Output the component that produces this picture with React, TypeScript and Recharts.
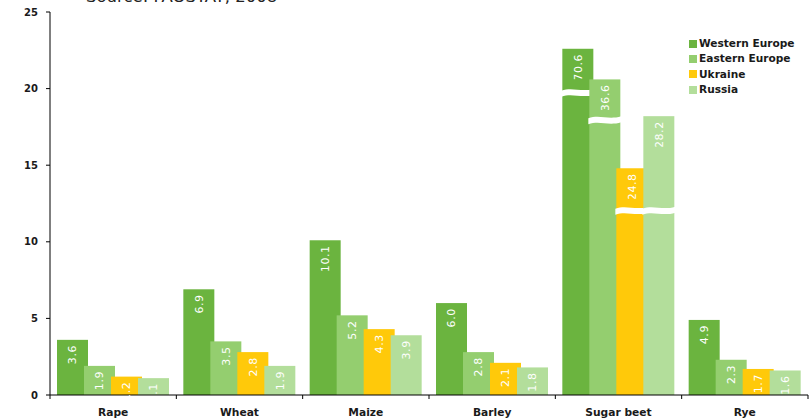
import React from 'react';
import { BarChart, Bar, XAxis, YAxis, Legend, LabelList } from 'recharts';

// ---- data ----
const categories = ['Rape', 'Wheat', 'Maize', 'Barley', 'Sugar beet', 'Rye'];
const seriesNames = ['Western Europe', 'Eastern Europe', 'Ukraine', 'Russia'];
const seriesColors = ['#6BB43F', '#94CE6F', '#FFC90A', '#B3DE9B'];

// real values (printed in the bars)
const westernEurope = [3.6, 6.9, 10.1, 6.0, 70.6, 4.9];
const easternEurope = [1.9, 3.5, 5.2, 2.8, 36.6, 2.3];
const ukraine = [1.2, 2.8, 4.3, 2.1, 24.8, 1.7];
const russia = [1.1, 1.9, 3.9, 1.8, 28.2, 1.6];

// sugar beet bars are drawn with an axis break: height shown and break position (axis units)
const brokenCategory = 'Sugar beet';
const shownHeight = [22.6, 20.6, 14.8, 18.2];
const breakAt = [19.8, 18.0, 12.1, 12.1];

const yTicks = [0, 5, 10, 15, 20, 25];
const sourceText = 'Source: FAOSTAT, 2008';

// ---- layout ----
const W = 812;
const H = 420;
const MARGIN = { top: 12, right: 4, bottom: 0, left: 0 };
const Y_AXIS_W = 50;
const X_AXIS_H = 25;
const PLOT_W = W - MARGIN.left - MARGIN.right - Y_AXIS_W;
const FONT = '"DejaVu Sans", Verdana, sans-serif';

const allSeries = [westernEurope, easternEurope, ukraine, russia];
const keys = ['s0', 's1', 's2', 's3'];

const data = categories.map((cat, i) => {
  const row: any = { category: cat };
  allSeries.forEach((vals, s) => {
    const broken = cat === brokenCategory;
    row[keys[s]] = broken ? shownHeight[s] : vals[i];
    row[keys[s] + 'Label'] = vals[i].toFixed(1);
    row[keys[s] + 'Break'] = broken ? breakAt[s] : null;
  });
  return row;
});

const makeShape = (key: string) => (props: any) => {
  const { x, y, width, height, fill, payload } = props;
  if (!height || height <= 0) return <g />;
  const brk = payload[key + 'Break'];
  const value = payload[key];
  let band = null;
  if (brk != null && value) {
    const yb = y + height - (height * brk) / value;
    const xl = x - 1;
    const xr = x + width + 1;
    const w = xr - xl;
    const d = `M ${xl} ${yb - 1} C ${xl + w * 0.35} ${yb - 5} ${xl + w * 0.6} ${yb + 1} ${xr} ${yb - 3} L ${xr} ${yb + 3} C ${xl + w * 0.6} ${yb + 7} ${xl + w * 0.35} ${yb + 1} ${xl} ${yb + 5} Z`;
    band = <path d={d} fill="#ffffff" />;
  }
  return (
    <g>
      <rect x={x} y={y} width={width} height={height} fill={fill} />
      {band}
    </g>
  );
};

const makeLabel = (key: string) => (props: any) => {
  const { x, y, width, height, value, index } = props;
  const cx = x + width / 2;
  const ty = y + 5;
  const id = `clip-${key}-${index}`;
  return (
    <g>
      <defs>
        <clipPath id={id}>
          <rect x={x - 10} y={y - 10} width={width + 20} height={height + 10} />
        </clipPath>
      </defs>
      <text
        x={cx}
        y={ty}
        dy="0.36em"
        transform={`rotate(-90 ${cx} ${ty})`}
        textAnchor="end"
        fill="#ffffff"
        fontSize={11}
        fontFamily={FONT}
        letterSpacing={0.6}
        clipPath={`url(#${id})`}
      >
        {value}
      </text>
    </g>
  );
};

const CategoryTick = (props: any) => {
  const { x, y, payload, index } = props;
  const half = PLOT_W / categories.length / 2;
  const axisY = y - 4 - 9;
  return (
    <g>
      <line x1={x - half} x2={x - half} y1={axisY} y2={axisY + 4} stroke="#000" />
      {index === categories.length - 1 && (
        <line x1={x + half} x2={x + half} y1={axisY} y2={axisY + 4} stroke="#000" />
      )}
      <text x={x} y={y} dy="0.71em" textAnchor="middle" fontSize={10.7} fontWeight="bold" fontFamily={FONT} fill="#1a1a1a">
        {payload.value}
      </text>
    </g>
  );
};

const LegendContent = () => (
  <div style={{ fontFamily: FONT, fontSize: 10.6, fontWeight: 'bold', color: '#1a1a1a' }}>
    {seriesNames.map((name, s) => (
      <div key={name} style={{ display: 'flex', alignItems: 'center', height: 15.3 }}>
        <span style={{ display: 'inline-block', width: 8, height: 8, background: seriesColors[s], marginRight: 2 }} />
        <span style={{ lineHeight: '15px' }}>{name}</span>
      </div>
    ))}
  </div>
);

export default function App() {
  return (
    <div style={{ position: 'absolute', left: 0, top: 0, width: W, height: H, background: '#fff' }}>
      <BarChart
        width={W}
        height={H}
        data={data}
        margin={MARGIN}
        barCategoryGap={7}
        barGap={-4}
      >
        <XAxis
          dataKey="category"
          height={X_AXIS_H}
          axisLine={{ stroke: '#000' }}
          tickLine={false}
          tickSize={4}
          tickMargin={9}
          interval={0}
          tick={<CategoryTick />}
        />
        <YAxis
          width={Y_AXIS_W}
          domain={[0, 25]}
          ticks={yTicks}
          interval={0}
          axisLine={{ stroke: '#000' }}
          tickLine={{ stroke: '#000' }}
          tickSize={4}
          tickMargin={8}
          tick={{ fontSize: 10, fontWeight: 'bold', fontFamily: FONT, fill: '#1a1a1a' }}
        />
        <Legend
          layout="horizontal"
          verticalAlign="middle"
          align="center"
          content={<LegendContent />}
          wrapperStyle={{ top: 36, left: 689, width: 122, height: 65 }}
        />
        {keys.map((k, s) => (
          <Bar
            key={k}
            dataKey={k}
            name={seriesNames[s]}
            fill={seriesColors[s]}
            isAnimationActive={false}
            shape={makeShape(k)}
          >
            <LabelList dataKey={k + 'Label'} content={makeLabel(k)} />
          </Bar>
        ))}
      </BarChart>
      <svg width={W} height={20} style={{ position: 'absolute', left: 0, top: 0, pointerEvents: 'none' }}>
        <text x={86} y={2} fontSize={16.5} fontFamily={FONT} fill="#222">
          {sourceText}
        </text>
      </svg>
    </div>
  );
}
